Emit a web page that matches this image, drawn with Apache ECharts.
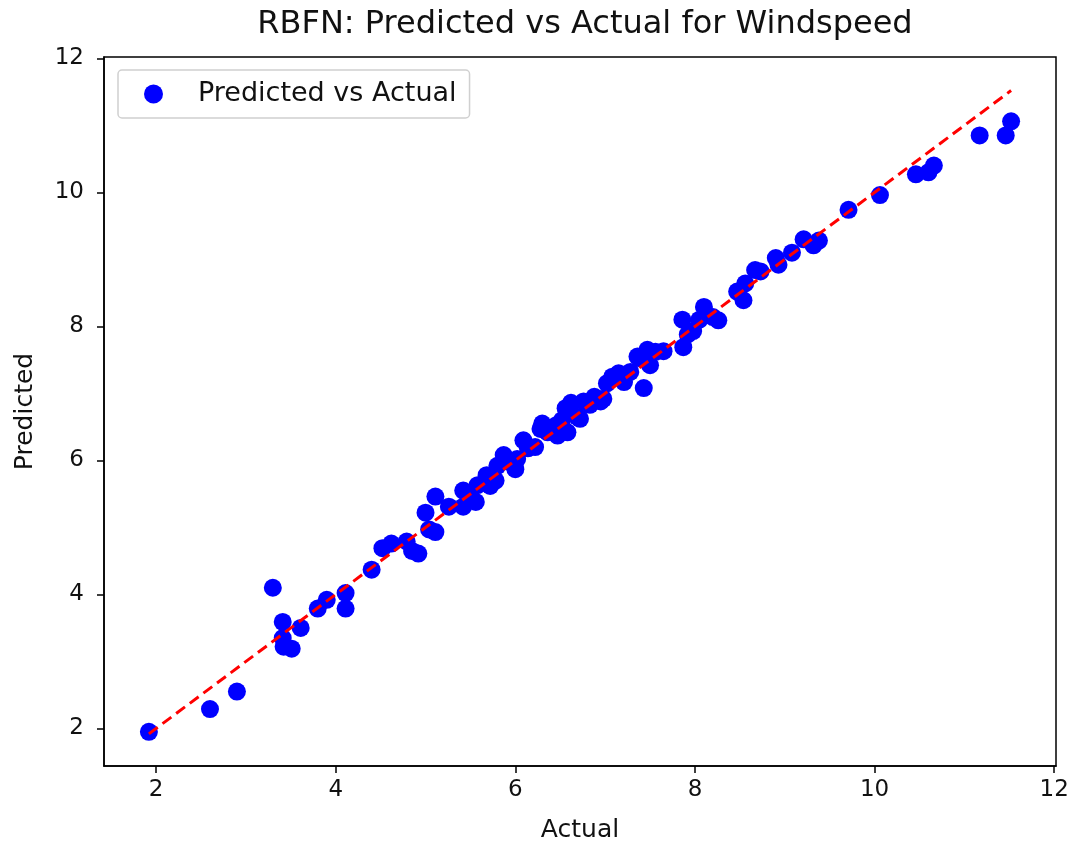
<!DOCTYPE html>
<html>
<head>
<meta charset="utf-8">
<title>RBFN: Predicted vs Actual for Windspeed</title>
<script src="https://cdn.jsdelivr.net/npm/echarts@6/dist/echarts.min.js"></script>
<style>
  html, body { margin: 0; padding: 0; background: #fff; }
  #chart { width: 1073px; height: 848px; }
</style>
</head>
<body>
<div id="chart"></div>
<script>
// actual vs predicted windspeed
var actual = [
  1.92, 2.60, 2.90, 3.30, 3.41, 3.41, 3.42, 3.51, 3.61, 3.80,
  3.90, 4.11, 4.11, 4.40, 4.52, 4.62, 4.79, 4.85, 4.92, 5.00,
  5.04, 5.11, 5.11, 5.26, 5.42, 5.42, 5.50, 5.56, 5.58, 5.68,
  5.72, 5.78, 5.80, 5.87, 5.92, 6.00, 6.02, 6.09, 6.14, 6.22,
  6.28, 6.30, 6.36, 6.45, 6.47, 6.52, 6.56, 6.58, 6.62, 6.69,
  6.72, 6.76, 6.83, 6.88, 6.95, 6.98, 7.02, 7.08, 7.15, 7.21,
  7.28, 7.36, 7.40, 7.43, 7.47, 7.50, 7.56, 7.65, 7.86, 7.87,
  7.92, 7.98, 8.05, 8.10, 8.20, 8.26, 8.47, 8.54, 8.56, 8.67,
  8.73, 8.90, 8.93, 9.08, 9.21, 9.32, 9.38, 9.71, 10.06, 10.46,
  10.60, 10.66, 11.17, 11.46, 11.52
];
var predicted = [
  1.95, 2.29, 2.55, 4.10, 3.59, 3.35, 3.22, 3.19, 3.50, 3.79,
  3.92, 4.02, 3.79, 4.37, 4.69, 4.76, 4.79, 4.65, 4.61, 5.22,
  4.97, 4.93, 5.46, 5.31, 5.31, 5.55, 5.42, 5.38, 5.63, 5.78,
  5.62, 5.70, 5.92, 6.08, 5.98, 5.87, 6.02, 6.30, 6.18, 6.20,
  6.47, 6.55, 6.42, 6.52, 6.37, 6.60, 6.78, 6.42, 6.86, 6.65,
  6.62, 6.88, 6.83, 6.95, 6.88, 6.92, 7.15, 7.25, 7.30, 7.17,
  7.32, 7.55, 7.52, 7.08, 7.65, 7.42, 7.62, 7.63, 8.10, 7.69,
  7.88, 7.93, 8.10, 8.29, 8.14, 8.09, 8.52, 8.39, 8.64, 8.84,
  8.82, 9.02, 8.92, 9.10, 9.30, 9.21, 9.28, 9.74, 9.96, 10.27,
  10.30, 10.40, 10.85, 10.85, 11.06
];
var tickValues = [2, 4, 6, 8, 10, 12];

var points = [];
for (var i = 0; i < actual.length; i++) {
  points.push([actual[i], predicted[i]]);
}
// ideal y = x line, from smallest to largest actual value
var lo = Math.min.apply(null, actual);
var hi = Math.max.apply(null, actual);
var ideal = [[lo, lo], [hi, hi]];

var font = 'DejaVu Sans';
var myChart = echarts.init(document.getElementById('chart'));

var axisCommon = {
  type: 'value',
  scale: true,
  splitLine: { show: false },
  axisLine: { show: true, onZero: false, lineStyle: { color: '#000', width: 1.5 } },
  axisTick: { show: true, length: 7, lineStyle: { color: '#000', width: 1.5 }, customValues: tickValues },
  axisLabel: { color: '#111', fontFamily: font, fontSize: 23, customValues: tickValues },
  nameLocation: 'middle',
  nameTextStyle: { color: '#111', fontFamily: font, fontSize: 25 }
};

var option = {
  animation: false,
  backgroundColor: '#fff',
  title: {
    text: 'RBFN: Predicted vs Actual for Windspeed',
    left: 580,
    textAlign: 'center',
    top: 4,
    textStyle: { color: '#111', fontFamily: font, fontSize: 32, fontWeight: 'normal' }
  },
  legend: {
    data: [{ name: 'Predicted vs Actual', icon: 'circle' }],
    left: 118,
    top: 70,
    orient: 'vertical',
    padding: [8, 13, 8, 26],
    itemWidth: 19,
    itemHeight: 19,
    itemGap: 8,
    borderColor: '#d0d0d0',
    borderWidth: 1.5,
    borderRadius: 4,
    textStyle: { color: '#111', fontFamily: font, fontSize: 27, lineHeight: 32, padding: [0, 0, 0, 30] }
  },
  grid: {
    left: 104,
    right: 17,
    top: 57,
    bottom: 82,
    show: true,
    borderColor: '#000',
    borderWidth: 1.5
  },
  xAxis: Object.assign({}, axisCommon, {
    min: 1.42,
    max: 12.02,
    name: 'Actual',
    nameGap: 52,
    axisLabel: Object.assign({}, axisCommon.axisLabel, { margin: 13 })
  }),
  yAxis: Object.assign({}, axisCommon, {
    min: 1.44,
    max: 12.02,
    name: 'Predicted',
    nameGap: 66,
    axisLabel: Object.assign({}, axisCommon.axisLabel, { margin: 20 })
  }),
  series: [
    {
      name: 'Predicted vs Actual',
      type: 'scatter',
      symbol: 'circle',
      symbolSize: 18,
      itemStyle: { color: '#0000ff', opacity: 1 },
      data: points,
      z: 2
    },
    {
      name: 'ideal',
      type: 'line',
      data: ideal,
      symbol: 'none',
      lineStyle: { color: '#ff0000', width: 3, type: [11, 6] },
      z: 3
    }
  ]
};
myChart.setOption(option);
</script>
</body>
</html>
